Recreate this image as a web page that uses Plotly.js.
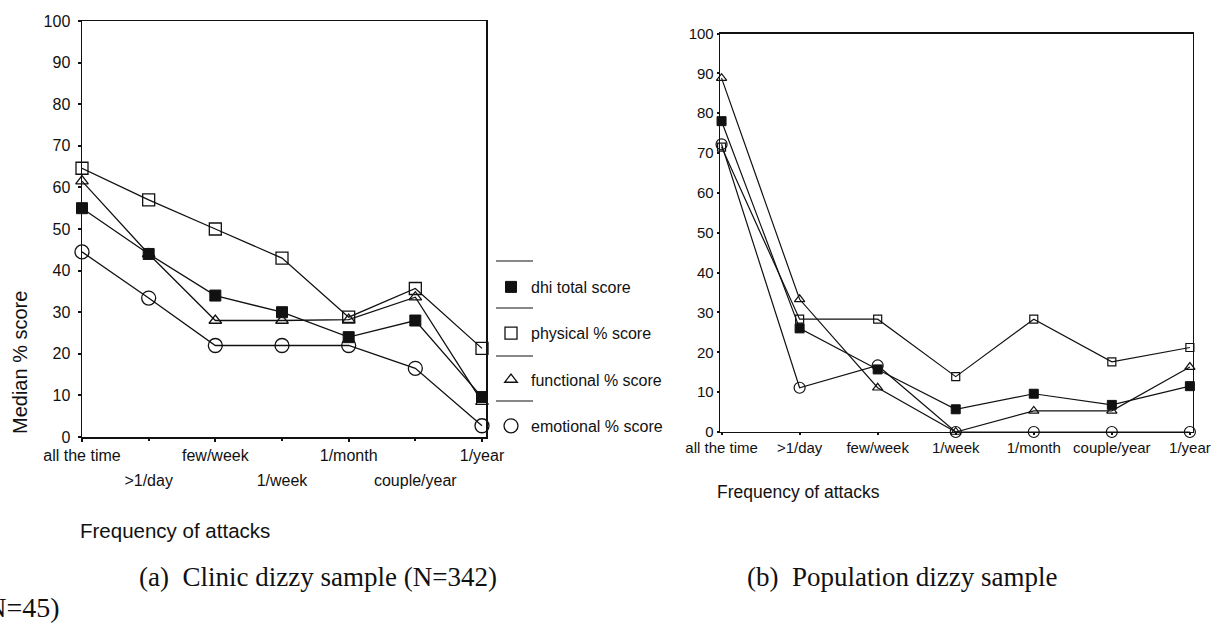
<!DOCTYPE html>
<html>
<head>
<meta charset="utf-8">
<script src="https://cdn.plot.ly/plotly-3.0.1.min.js"></script>
<style>
  html, body { margin: 0; padding: 0; background: #fff; }
  #chart { width: 1219px; height: 628px; }
</style>
</head>
<body>
<div id="chart"></div>
<script>
// Attack-frequency categories (shared by both panels)
const categories = ["all the time", ">1/day", "few/week", "1/week", "1/month", "couple/year", "1/year"];
const tickLabels = ["all the time", "&gt;1/day", "few/week", "1/week", "1/month", "couple/year", "1/year"];

// Panel (a): clinic dizzy sample, median % scores
const clinicDhiTotal   = [55, 44, 34, 30, 24, 28, 9.6];
const clinicPhysical   = [64.6, 57, 50, 43, 28.8, 35.7, 21.3];
const clinicFunctional = [61.5, 44, 28, 28, 28.2, 33.6, 8.5];
const clinicEmotional  = [44.5, 33.4, 22, 22, 22, 16.5, 2.7];

// Panel (b): population dizzy sample, median % scores
const popDhiTotal   = [78, 26, 15.7, 5.7, 9.6, 6.8, 11.5];
const popPhysical   = [71.5, 28.3, 28.3, 13.9, 28.3, 17.6, 21.2];
const popFunctional = [88.8, 33.3, 11.1, 0, 5.3, 5.3, 16.3];
const popEmotional  = [72.2, 11.1, 16.7, 0, 0, 0, 0];

const yTicks = [0, 10, 20, 30, 40, 50, 60, 70, 80, 90, 100];
const seriesNames = ["dhi total score", "physical % score", "functional % score", "emotional % score"];

const W = 1219, H = 628;
const px = v => v / W;
const py = v => 1 - v / H;

const idx = categories.map((_, i) => i);
const black = "#111";
const sans = "Liberation Sans, Arial, sans-serif";
const serif = "Liberation Serif, Times New Roman, serif";

const symbolsBig = [
  {symbol: "square", size: 11, color: black, line: {color: black, width: 1}},
  {symbol: "square-open", size: 12, color: black, line: {color: black, width: 1.3}},
  {symbol: "triangle-up-open", size: 11, color: black, line: {color: black, width: 1.3}},
  {symbol: "circle-open", size: 14, color: black, line: {color: black, width: 1.3}}
];
const symbolsSmall = [
  {symbol: "square", size: 9, color: black, line: {color: black, width: 1}},
  {symbol: "square-open", size: 8, color: black, line: {color: black, width: 1.2}},
  {symbol: "triangle-up-open", size: 9, color: black, line: {color: black, width: 1.2}},
  {symbol: "circle-open", size: 11, color: black, line: {color: black, width: 1.2}}
];

const clinic = [clinicDhiTotal, clinicPhysical, clinicFunctional, clinicEmotional];
const pop = [popDhiTotal, popPhysical, popFunctional, popEmotional];

const traces = [];
// emotional/functional first so the filled squares sit on top
[3, 2, 1, 0].forEach(k => {
  traces.push({
    type: "scatter", mode: "lines+markers", x: idx, y: clinic[k],
    xaxis: "x", yaxis: "y", name: seriesNames[k], showlegend: false,
    line: {color: black, width: 1.3}, marker: symbolsBig[k], cliponaxis: false
  });
  traces.push({
    type: "scatter", mode: "lines+markers", x: idx, y: pop[k],
    xaxis: "x2", yaxis: "y2", name: seriesNames[k], showlegend: false,
    line: {color: black, width: 1.2}, marker: symbolsSmall[k], cliponaxis: false
  });
});
// empty trace that carries the second row of category labels
traces.push({type: "scatter", mode: "markers", x: [null], y: [null], xaxis: "x3", yaxis: "y", showlegend: false, hoverinfo: "skip"});
// legend entries (marker only)
seriesNames.forEach((n, k) => {
  traces.push({
    type: "scatter", mode: "markers", x: [null], y: [null],
    xaxis: "x", yaxis: "y", name: n, legendgroup: "g" + k,
    marker: symbolsBig[k], showlegend: true
  });
});

const tickFontA = {family: sans, size: 16, color: black};
const tickFontB = {family: sans, size: 15, color: black};

const layout = {
  width: W, height: H,
  margin: {l: 0, r: 0, t: 0, b: 0},
  paper_bgcolor: "#fff", plot_bgcolor: "#fff",
  showlegend: true,
  legend: {
    x: px(491), y: py(270), xanchor: "left", yanchor: "top",
    font: {family: sans, size: 16, color: black},
    tracegroupgap: 22.5, itemwidth: 30, bgcolor: "rgba(0,0,0,0)"
  },
  xaxis: {
    domain: [px(82), px(486)], range: [0, 6.06], anchor: "y",
    tickmode: "array", tickvals: [0, 2, 4, 6],
    ticktext: [tickLabels[0], tickLabels[2], tickLabels[4], tickLabels[6]],
    ticks: "outside", ticklen: 3, tickwidth: 2, tickcolor: black,
    showline: true, linecolor: black, linewidth: 1.5, mirror: true,
    showgrid: false, zeroline: false, tickfont: tickFontA, ticklabelstandoff: 0
  },
  xaxis3: {
    overlaying: "x", anchor: "y", range: [0, 6.06],
    tickmode: "array", tickvals: [1, 3, 5],
    ticktext: [tickLabels[1], tickLabels[3], tickLabels[5]],
    ticks: "outside", ticklen: 3, tickwidth: 2, tickcolor: black,
    ticklabelstandoff: 26, showline: false, showgrid: false, zeroline: false,
    tickfont: tickFontA
  },
  yaxis: {
    domain: [py(437), py(21)], range: [0, 100], anchor: "x",
    tickmode: "array", tickvals: yTicks,
    ticks: "outside", ticklen: 3, tickwidth: 2, tickcolor: black,
    showline: true, linecolor: black, linewidth: 1.5, mirror: true,
    showgrid: false, zeroline: false, tickfont: tickFontA, ticklabelstandoff: 4
  },
  xaxis2: {
    domain: [px(720), px(1193)], range: [-0.02, 6.04], anchor: "y2",
    tickmode: "array", tickvals: idx, ticktext: tickLabels,
    ticks: "outside", ticklen: 2, tickwidth: 2, tickcolor: black,
    showline: true, linecolor: black, linewidth: 1.3, mirror: true,
    showgrid: false, zeroline: false, tickfont: tickFontB, ticklabelstandoff: 0
  },
  yaxis2: {
    domain: [py(432), py(33.5)], range: [0, 100], anchor: "x2",
    tickmode: "array", tickvals: yTicks,
    ticks: "outside", ticklen: 2, tickwidth: 2, tickcolor: black,
    showline: true, linecolor: black, linewidth: 1.3, mirror: true,
    showgrid: false, zeroline: false, tickfont: tickFontB, ticklabelstandoff: 0
  },
  shapes: [261, 308, 356, 401].map(y => ({
    type: "line", xref: "paper", yref: "paper",
    x0: px(496), x1: px(533), y0: py(y), y1: py(y),
    line: {color: black, width: 1.2}
  })),
  annotations: [
    {text: "Median % score", xref: "paper", yref: "paper", x: px(20), y: py(363),
     xanchor: "center", yanchor: "middle", textangle: -90, showarrow: false,
     font: {family: sans, size: 20, color: black}},
    {text: "Frequency of attacks", xref: "paper", yref: "paper", x: px(78), y: py(530),
     xanchor: "left", yanchor: "middle", showarrow: false,
     font: {family: sans, size: 20.5, color: black}},
    {text: "Frequency of attacks", xref: "paper", yref: "paper", x: px(715), y: py(492),
     xanchor: "left", yanchor: "middle", showarrow: false,
     font: {family: sans, size: 17.5, color: black}},
    {text: "(a)  Clinic dizzy sample (N=342)", xref: "paper", yref: "paper", x: px(137), y: py(577),
     xanchor: "left", yanchor: "middle", showarrow: false,
     font: {family: serif, size: 27, color: black}},
    {text: "(b)  Population dizzy sample", xref: "paper", yref: "paper", x: px(745), y: py(577),
     xanchor: "left", yanchor: "middle", showarrow: false,
     font: {family: serif, size: 27, color: black}},
    {text: "(N=45)", xref: "paper", yref: "paper", x: px(62), y: py(607),
     xanchor: "right", yanchor: "middle", showarrow: false,
     font: {family: serif, size: 28, color: black}}
  ]
};

Plotly.newPlot("chart", traces, layout, {displayModeBar: false, staticPlot: true});
</script>
</body>
</html>
